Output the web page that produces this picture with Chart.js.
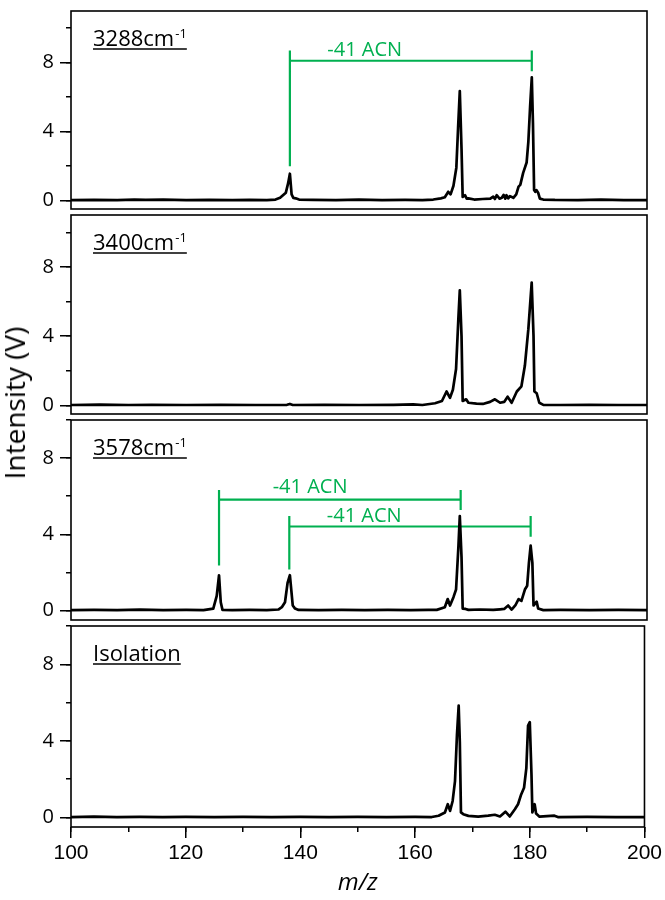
<!DOCTYPE html>
<html lang="en">
<head>
<meta charset="UTF-8">
<title>IR photodissociation mass spectra</title>
<script src="https://cdn.jsdelivr.net/npm/chart.js"></script>
<style>
  body { margin: 0; background: #fff; }
  #wrap { position: relative; width: 665px; height: 900px; overflow: hidden; }
  #wrap canvas { position: absolute; left: 0; }
  #ylab {
    position: absolute; left: 14px; top: 403px;
    transform: translate(-50%, -50%) rotate(-90deg);
    font: 28px "Open Sans"; line-height: 1; white-space: nowrap; color: #000;
  }
</style>
</head>
<body>
<div id="wrap">
  <canvas id="p1" width="665" height="234" style="top:-7px"></canvas>
  <canvas id="p2" width="665" height="235" style="top:197px"></canvas>
  <canvas id="p3" width="665" height="236" style="top:402px"></canvas>
  <canvas id="p4" width="665" height="292" style="top:608px"></canvas>
  <div id="ylab">Intensity (V)</div>
</div>
<script>
// spectra (m/z, intensity in V)
const mz3288 = [100, 104, 108, 111, 113, 116, 120, 124, 128, 131,
  134, 135.5, 136.3, 136.8, 137.3, 137.7, 138.0, 138.3, 138.6, 139.0,
  139.6, 142, 146, 150, 154, 158, 161, 162.9, 164.2, 164.9,
  165.5, 165.9, 166.4, 166.9, 167.2, 167.5, 167.8, 168.0, 168.4, 168.7,
  169.0, 170.0, 171.5, 172.8, 173.3, 173.6, 173.9, 174.4, 174.8, 175.1,
  175.4, 175.6, 175.9, 176.2, 176.8, 177.3, 177.7, 178.0, 178.5, 179.1,
  179.4, 179.7, 180.0, 180.2, 180.4, 180.6, 180.8, 181.1, 181.4, 182,
  184, 188, 192, 196, 200];
const int3288 = [0.02, 0.03, 0.01, 0.05, 0.03, 0.04, 0.02, 0.03, 0.01, 0.03,
  0.02, 0.05, 0.15, 0.30, 0.45, 1.00, 1.55, 0.35, 0.15, 0.12,
  0.05, 0.03, 0.02, 0.04, 0.02, 0.03, 0.02, 0.05, 0.12, 0.18,
  0.50, 0.35, 0.85, 1.90, 4.20, 6.35, 3.00, 0.20, 0.30, 0.10,
  0.12, 0.05, 0.08, 0.10, 0.22, 0.08, 0.30, 0.10, 0.15, 0.32,
  0.10, 0.30, 0.12, 0.25, 0.15, 0.35, 0.80, 0.90, 1.60, 2.20,
  3.40, 5.40, 7.15, 4.50, 0.60, 0.50, 0.60, 0.45, 0.10, 0.05,
  0.03, 0.02, 0.04, 0.02, 0.02];

const mz3400 = [100, 105, 110, 114, 120, 126, 132, 137.5, 138.0, 138.5,
  144, 150, 156, 159.4, 161, 163.2, 164.4, 165.2, 165.8, 166.3,
  166.85, 167.25, 167.5, 167.8, 168.0, 168.6, 169.0, 170.4, 171.5, 172.75,
  173.6, 174.5, 175.2, 175.8, 176.5, 177.4, 178.2, 178.8, 179.4, 179.98,
  180.3, 180.45, 180.85, 181.3, 182, 185, 190, 195, 200];
const int3400 = [0.02, 0.04, 0.02, 0.03, 0.02, 0.03, 0.02, 0.03, 0.08, 0.02,
  0.03, 0.02, 0.03, 0.06, 0.02, 0.12, 0.25, 0.80, 0.43, 0.90,
  2.10, 5.00, 6.65, 4.00, 0.25, 0.35, 0.15, 0.10, 0.08, 0.20,
  0.35, 0.15, 0.20, 0.50, 0.15, 0.80, 1.10, 2.30, 4.40, 7.10,
  4.00, 0.80, 0.70, 0.15, 0.03, 0.02, 0.03, 0.02, 0.02];

const mz3578 = [100, 104, 108, 112, 116, 120, 123, 124.7, 125.3, 125.7,
  126.0, 126.3, 128, 131, 134, 136.0, 136.6, 137.15, 137.6, 138.0,
  138.5, 138.9, 139.5, 143, 147, 151, 155, 159, 162, 163.5,
  164.9, 165.4, 165.8, 166.4, 166.85, 167.25, 167.5, 167.8, 168.0, 168.5,
  169.0, 171.0, 173.3, 174.5, 175.2, 175.9, 176.5, 177.2, 177.7, 178.2,
  178.8, 179.2, 179.5, 179.8, 180.1, 180.3, 180.85, 181.1, 182.0, 185,
  190, 195, 200];
const int3578 = [0.02, 0.03, 0.02, 0.04, 0.02, 0.03, 0.02, 0.10, 0.77, 1.85,
  0.43, 0.03, 0.02, 0.03, 0.02, 0.05, 0.17, 0.43, 1.45, 1.85,
  0.26, 0.10, 0.03, 0.02, 0.03, 0.02, 0.03, 0.02, 0.03, 0.03,
  0.17, 0.60, 0.26, 0.70, 1.10, 3.30, 4.96, 2.80, 0.10, 0.08,
  0.03, 0.05, 0.03, 0.06, 0.08, 0.26, 0.05, 0.30, 0.60, 0.50,
  1.10, 1.30, 2.50, 3.40, 2.50, 0.26, 0.46, 0.10, 0.02, 0.03,
  0.02, 0.03, 0.02];

const mzIso = [100, 104, 108, 112, 116, 120, 125, 130, 135, 140,
  145, 150, 155, 160, 162.9, 164.1, 165.2, 165.7, 166.1, 166.55,
  166.96, 167.3, 167.6, 167.8, 168.0, 168.4, 169.3, 171.0, 172.75, 173.9,
  174.8, 175.75, 176.5, 177.4, 177.95, 178.5, 179.0, 179.4, 179.7, 180.0,
  180.3, 180.45, 180.85, 181.1, 181.7, 184.3, 184.9, 190, 195, 200];
const intIso = [0.02, 0.04, 0.02, 0.03, 0.02, 0.03, 0.02, 0.03, 0.02, 0.03,
  0.02, 0.03, 0.02, 0.03, 0.02, 0.09, 0.26, 0.69, 0.34, 0.86,
  1.90, 4.30, 5.84, 3.95, 0.26, 0.17, 0.08, 0.04, 0.09, 0.14,
  0.05, 0.30, 0.05, 0.43, 0.69, 1.20, 1.55, 2.58, 4.80, 4.98,
  2.20, 0.26, 0.69, 0.20, 0.04, 0.09, 0.02, 0.03, 0.02, 0.02];

// -41 ACN brackets: [from m/z, to m/z, bar y, top y, left foot y, right foot y]
const acnLines3288 = [[138.0, 180.0, 8.11, 8.71, 1.99, 7.50]];
const acnLines3578 = [[125.7, 167.65, 5.82, 6.33, 2.36, 5.27],
                      [137.9, 179.8, 4.41, 4.96, 2.15, 3.87]];
// bracket text anchor: [m/z centre, y baseline]
const acnText3288 = [[151.0, 8.39]];
const acnText3578 = [[141.5, 6.15], [150.9, 4.67]];

const xTicks = [100, 120, 140, 160, 180, 200];
const yTicks = [0, 4, 8];

const GREEN = '#00b050';
const TXT = '"Open Sans", "Noto Sans", sans-serif';

function bracketData(list) {
  const pts = [];
  list.forEach(b => {
    const [xl, xr, bar, top, lb, rb] = b;
    pts.push({x: xl, y: lb}, {x: xl, y: top}, {x: xl, y: null},
             {x: xl, y: bar}, {x: xr, y: bar}, {x: xr, y: null},
             {x: xr, y: rb}, {x: xr, y: top}, {x: xr, y: null});
  });
  return pts;
}

function panelPlugin(label, sup, notes) {
  return {
    id: 'panelDeco',
    afterDraw(chart) {
      const {ctx, chartArea: a} = chart;
      ctx.save();
      ctx.strokeStyle = '#000';
      ctx.lineWidth = 1.6;
      ctx.strokeRect(a.left, a.top, a.right - a.left, a.bottom - a.top);

      ctx.fillStyle = '#000';
      ctx.textBaseline = 'alphabetic';
      ctx.textAlign = 'left';
      ctx.font = '22px ' + TXT;
      const x0 = a.left + 22, y0 = a.top + 34.5;
      ctx.fillText(label, x0, y0);
      let w = ctx.measureText(label).width;
      if (sup) {
        ctx.font = '13px ' + TXT;
        ctx.fillText(sup, x0 + w + 1, y0 - 8);
        w += 1 + ctx.measureText(sup).width;
      }
      ctx.lineWidth = 1.5;
      ctx.beginPath();
      ctx.moveTo(x0, y0 + 3.5);
      ctx.lineTo(x0 + w, y0 + 3.5);
      ctx.stroke();

      ctx.fillStyle = GREEN;
      ctx.font = '20px ' + TXT;
      ctx.textAlign = 'center';
      notes.forEach(n => {
        ctx.fillText('-41 ACN', chart.scales.x.getPixelForValue(n[0]), chart.scales.y.getPixelForValue(n[1]));
      });
      ctx.restore();
    }
  };
}

function makePanel(id, mz, ints, yMax, label, sup, lines, notes, last) {
  const scales = {
    x: {
      type: 'linear', min: 100, max: 200, display: last, weight: 1,
      afterFit: s => { s.height = last ? 73 : 0; },
      border: {display: false},
      grid: {drawOnChartArea: false, color: '#000', lineWidth: 1.5, tickLength: 11},
      ticks: {
        stepSize: 20, padding: 3, color: '#000', maxRotation: 0,
        font: {family: '"Liberation Sans", Arial, sans-serif', size: 21},
        callback: v => xTicks.includes(v) ? String(v) : ''
      },
      title: {
        display: true, text: 'm/z', color: '#000',
        font: {family: TXT, size: 24, style: 'italic'},
        padding: {top: 4, bottom: 2}
      }
    },
    y: {
      type: 'linear', position: 'left', min: -0.5, max: yMax, weight: 1,
      afterFit: s => { s.width = 71; },
      border: {display: false},
      grid: {drawOnChartArea: false, color: '#000', lineWidth: 1.5, tickLength: 11},
      ticks: {
        stepSize: 4, includeBounds: false, padding: 6, color: '#000',
        font: {family: TXT, size: 20},
        callback: v => yTicks.includes(v) ? String(v) : ''
      }
    },
    yMinor: {
      type: 'linear', position: 'left', min: -0.5, max: yMax, weight: 0,
      afterFit: s => { s.width = 0; },
      border: {display: false},
      grid: {drawOnChartArea: false, color: '#000', lineWidth: 1.5, tickLength: 5},
      ticks: {stepSize: 2, includeBounds: false, display: false}
    }
  };
  if (last) {
    scales.xMinor = {
      type: 'linear', position: 'bottom', min: 100, max: 200, weight: 0,
      afterFit: s => { s.height = 0; },
      border: {display: false},
      grid: {drawOnChartArea: false, color: '#000', lineWidth: 1.5, tickLength: 5},
      ticks: {stepSize: 10, display: false}
    };
  }
  const datasets = [{
    data: mz.map((m, i) => ({x: m, y: ints[i]})),
    borderColor: '#000', borderWidth: 2.7, pointRadius: 0,
    borderJoinStyle: 'round', tension: 0
  }];
  if (lines.length) {
    datasets.push({
      data: bracketData(lines),
      borderColor: GREEN, borderWidth: 2.2, pointRadius: 0, spanGaps: false
    });
  }
  return new Chart(document.getElementById(id), {
    type: 'line',
    data: {datasets},
    options: {
      animation: false, responsive: false, events: [],
      layout: {padding: {top: 15, bottom: last ? 0 : 15, left: 0, right: 18}},
      plugins: {legend: {display: false}, tooltip: {enabled: false}},
      scales
    },
    plugins: [panelPlugin(label, sup, notes)]
  });
}

makePanel('p1', mz3288, int3288, 11, '3288cm', '-1', acnLines3288, acnText3288, false);
makePanel('p2', mz3400, int3400, 11, '3400cm', '-1', [], [], false);
makePanel('p3', mz3578, int3578, 10, '3578cm', '-1', acnLines3578, acnText3578, false);
makePanel('p4', mzIso, intIso, 10, 'Isolation', '', [], [], true);
</script>
</body>
</html>
